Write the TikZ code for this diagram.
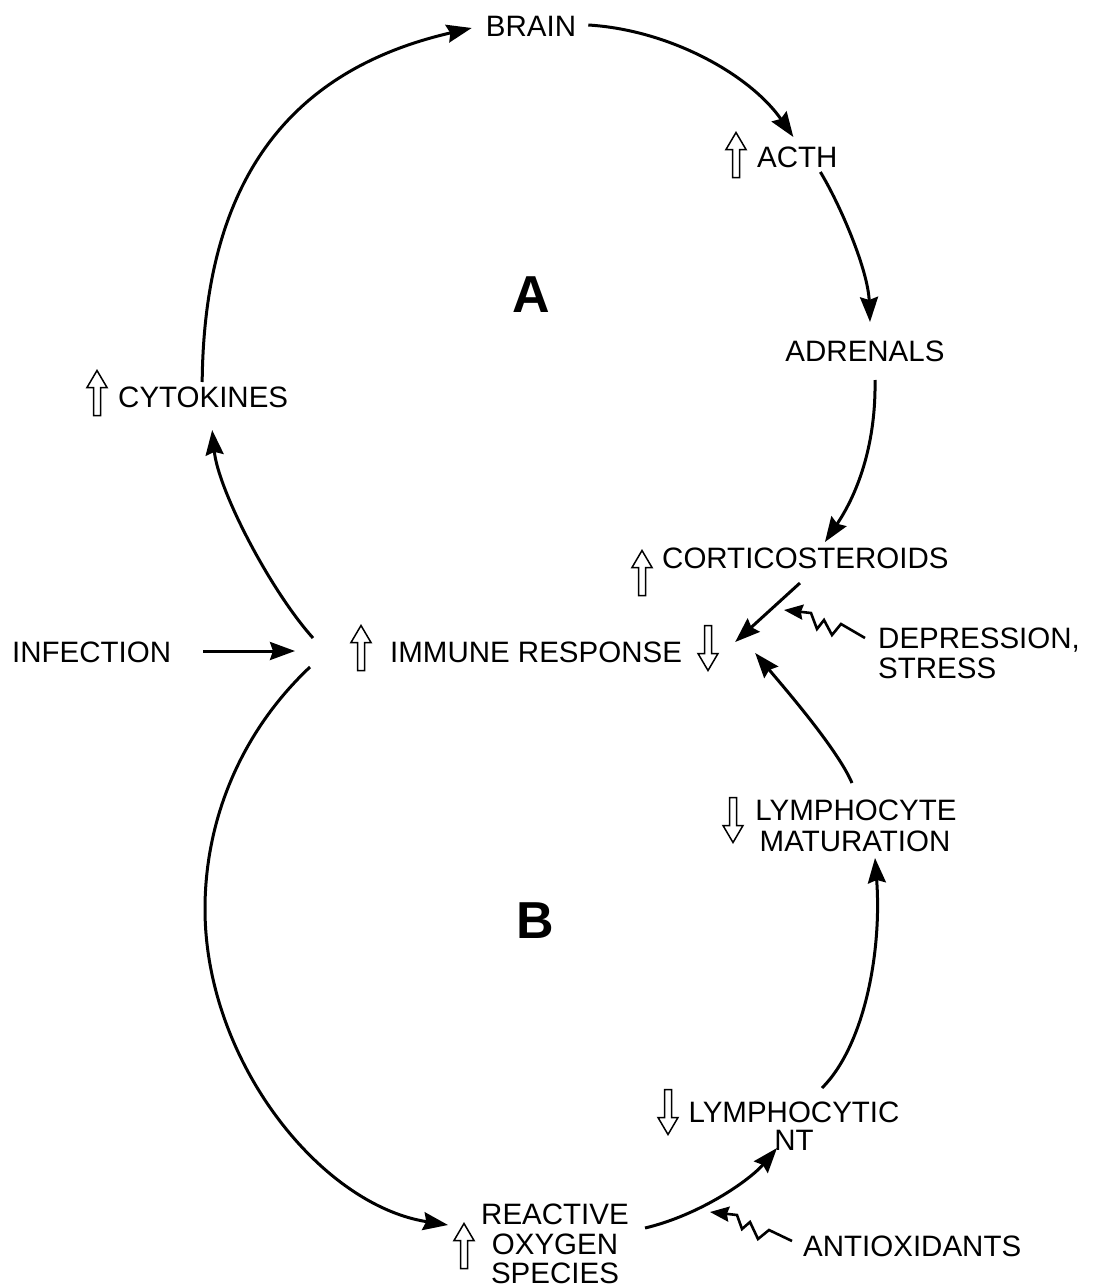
\documentclass[tikz,border=0pt]{standalone}
\usepackage{fontspec}
\setmainfont{Liberation Sans}
\usetikzlibrary{arrows.meta,calc}
\tikzset{
  lbl/.style={inner sep=0pt, font=\fontsize{29.5}{32}\selectfont},
  big/.style={inner sep=0pt, font=\fontsize{52}{56}\selectfont\bfseries},
  arr/.style={line width=3pt, -{Stealth[length=25pt,width=18pt,inset=3pt]}},
  zarr/.style={line width=2.6pt, line join=miter, -{Stealth[length=19pt,width=15pt,inset=2pt]}},
  hollow/.style={line width=1.5pt, fill=white, line join=miter},
  hup/.pic={\draw[hollow] (-3.5,22.5) -- (-3.5,-5.5) -- (-10,-5.5) -- (0,-22.5) -- (10,-5.5) -- (3.5,-5.5) -- (3.5,22.5) -- cycle;},
  hdown/.pic={\draw[hollow] (-3.5,-22.5) -- (-3.5,5.5) -- (-10,5.5) -- (0,22.5) -- (10,5.5) -- (3.5,5.5) -- (3.5,-22.5) -- cycle;}
}
\begin{document}
\begin{tikzpicture}[x=1pt,y=-1pt]
\useasboundingbox (0,0) rectangle (1096,1287);
% labels
\node[lbl, anchor=base] (brain) at (531,37) {BRAIN};
\node[lbl, anchor=base west] (acth) at (757,167) {ACTH};
\node[big, anchor=base] (A) at (531,312) {A};
\node[lbl, anchor=base] (adren) at (865,361) {ADRENALS};
\node[lbl, anchor=base west] (cyto) at (118,407) {CYTOKINES};
\node[lbl, anchor=base west] (cort) at (662,568) {CORTICOSTEROIDS};
\node[lbl, anchor=base west] (inf) at (12,662) {INFECTION};
\node[lbl, anchor=base west] (imm) at (390,662) {IMMUNE RESPONSE};
\node[lbl, anchor=base west] (dep) at (878,648) {DEPRESSION,};
\node[lbl, anchor=base west] (stress) at (878,678) {STRESS};
\node[lbl, anchor=base] (lym1) at (856,820) {LYMPHOCYTE};
\node[lbl, anchor=base] (lym2) at (855,851) {MATURATION};
\node[big, anchor=base] (B) at (535,938) {B};
\node[lbl, anchor=base] (lyc1) at (794,1122) {LYMPHOCYTIC};
\node[lbl, anchor=base] (lyc2) at (794,1150) {NT};
\node[lbl, anchor=base] (ros1) at (555,1224) {REACTIVE};
\node[lbl, anchor=base] (ros2) at (555,1254) {OXYGEN};
\node[lbl, anchor=base] (ros3) at (555,1283) {SPECIES};
\node[lbl, anchor=base west] (anti) at (803,1256) {ANTIOXIDANTS};
% hollow up/down arrows
\pic at (736,155) {hup};
\pic at (97,393) {hup};
\pic at (642,573) {hup};
\pic at (361,648) {hup};
\pic at (708,648) {hdown};
\pic at (733,820) {hdown};
\pic at (668,1112) {hdown};
\pic at (464,1246) {hup};
% loop A
\draw[arr] ($(cyto.base)+(-1,-25)$) .. controls +(2,-202) and +(-182,42) .. ($(brain.base west)+(-14,-9)$);
\draw[arr] ($(brain.base east)+(12,-12)$) .. controls +(82,5) and +(-43,-62) .. ($(acth.base)+(-4,-30)$);
\draw[arr] ($(acth.base)+(23,5)$) .. controls +(20,33) and +(-2,-52) .. ($(adren.base)+(5,-39)$);
\draw[arr] ($(adren.base)+(10,19)$) .. controls +(1,60) and +(35,-52) .. ($(cort.base)+(19.6,-26)$);
\draw[arr] ($(cort.base)+(-5.4,15)$) -- ($(imm.base east)+(53,-20)$);
\draw[arr] ($(imm.base west)+(-77,-24)$) .. controls +(-43,-48) and +(6,60) .. ($(cyto.base)+(9,23)$);
% infection
\draw[arr] ($(inf.base east)+(32,-11)$) -- ($(imm.base west)+(-95,-11)$);
% loop B
\draw[arr] ($(imm.base west)+(-80,5)$) .. controls (243,730) and (205,817) .. (205,909)
   .. controls (205,1060) and (320,1205) .. ($(ros1.base west)+(-33,1)$);
\draw[arr] ($(ros1.base)+(90,4)$) .. controls +(55,-13) and +(-27,32) .. ($(lyc2.base)+(-17,-2)$);
\draw[arr] ($(lyc1.base)+(28,-34)$) .. controls +(43,-43) and +(7,92) .. ($(lym2.base)+(20,7)$);
\draw[arr] ($(lym1.base)+(-4,-37)$) .. controls +(-15,-35) and +(25,30) .. ($(imm.base east)+(73,-9)$);
% zigzag arrows
\draw[zarr] ($(dep.base west)+(-13,-10)$) -- ++(-24,-14) -- ++(-9,11) -- ++(-8,-15) -- ++(-7,9) -- ++(-6,-16) -- ++(-27,-3);
\draw[zarr] ($(anti.base west)+(-11,-15)$) -- ++(-23,-11) -- ++(-11,9) -- ++(-8,-17) -- ++(-8,7) -- ++(-5,-14) -- ++(-27,-3);
\end{tikzpicture}
\end{document}
